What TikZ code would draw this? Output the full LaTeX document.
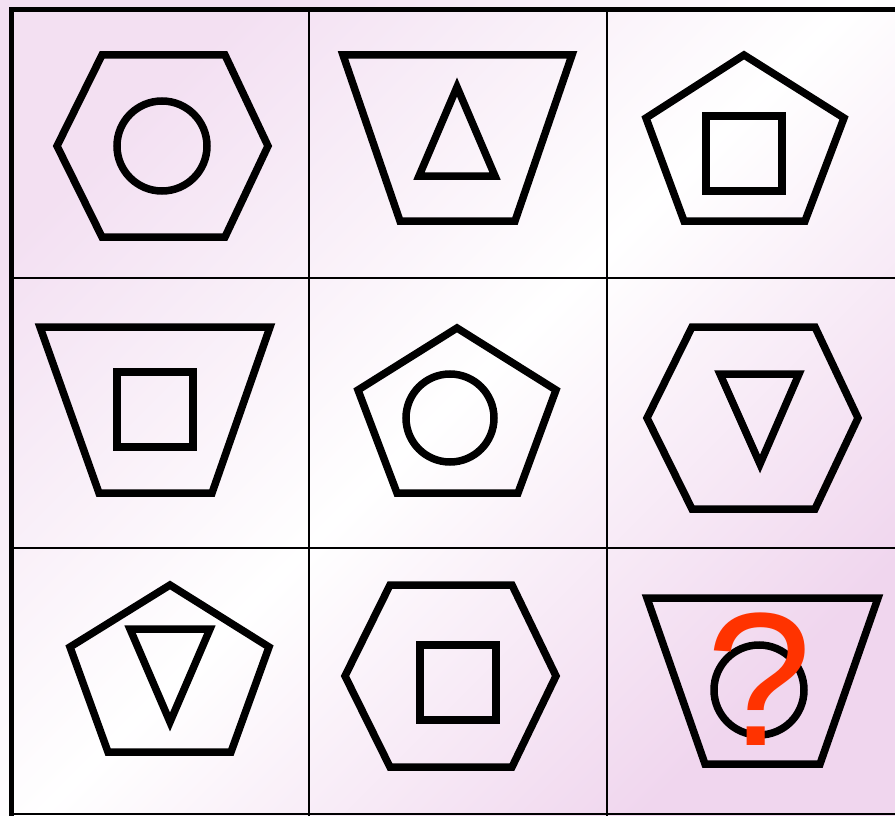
\documentclass[tikz,border=0pt]{standalone}
\usepackage{fontspec}
\newfontfamily\qfont{Liberation Sans}
\definecolor{bgpink}{RGB}{240,214,238}
\definecolor{bgpinkb}{RGB}{243,224,242}
\definecolor{qred}{RGB}{255,51,0}
\tikzset{
  fig/.style={draw=black, line width=7.5pt, line join=miter},
  grid/.style={draw=black, line width=2pt},
  outer/.style={draw=black, line width=5pt},
}
\begin{document}
\begin{tikzpicture}[x=1pt,y=-1pt]
\useasboundingbox (0,0) rectangle (895,816);
\shade[left color=bgpinkb, right color=bgpink, middle color=white, shading angle=45] (0,0) rectangle (895,816);
% grid
\draw[grid] (309,10) -- (309,816);
\draw[grid] (607,10) -- (607,816);
\draw[grid] (11,278) -- (895,278);
\draw[grid] (11,548) -- (895,548);
\draw[grid] (11,814) -- (895,814);
\draw[outer] (11,816) -- (11,10) -- (895,10);
% row 1
\draw[fig] (102,55) -- (225,55) -- (268,146) -- (225,237) -- (102,237) -- (57,146) -- cycle;
\draw[fig] (162,146) circle (45);
\draw[fig] (343,55) -- (572,55) -- (515,221) -- (400,221) -- cycle;
\draw[fig] (457,87) -- (495,176) -- (419,176) -- cycle;
\draw[fig] (744,55) -- (844,118) -- (805,221) -- (684,221) -- (646,118) -- cycle;
\draw[fig] (706,116) rectangle (782,191);
% row 2
\draw[fig] (40,327) -- (270,327) -- (212,493) -- (99,493) -- cycle;
\draw[fig] (117,372) rectangle (193,447);
\draw[fig] (457,328) -- (556,390) -- (518,493) -- (397,493) -- (358,390) -- cycle;
\draw[fig] (450,418) circle (44);
\draw[fig] (692,327) -- (815,327) -- (858,418) -- (815,509) -- (692,509) -- (647,418) -- cycle;
\draw[fig] (720,374) -- (799,374) -- (760,464) -- cycle;
% row 3
\draw[fig] (170,585) -- (269,647) -- (231,752) -- (108,752) -- (70,647) -- cycle;
\draw[fig] (130,629) -- (210,629) -- (170,722) -- cycle;
\draw[fig] (390,585) -- (512,585) -- (556,676) -- (512,767) -- (390,767) -- (345,676) -- cycle;
\draw[fig] (420,645) rectangle (496,720);
\draw[fig] (647,598) -- (878,598) -- (820,764) -- (705,764) -- cycle;
\draw[fig] (759,690) circle (45);
\node[text=qred, font=\fontsize{190}{190}\selectfont\qfont, inner sep=0pt] (q) at (759.5,679) {?};
\end{tikzpicture}
\end{document}
